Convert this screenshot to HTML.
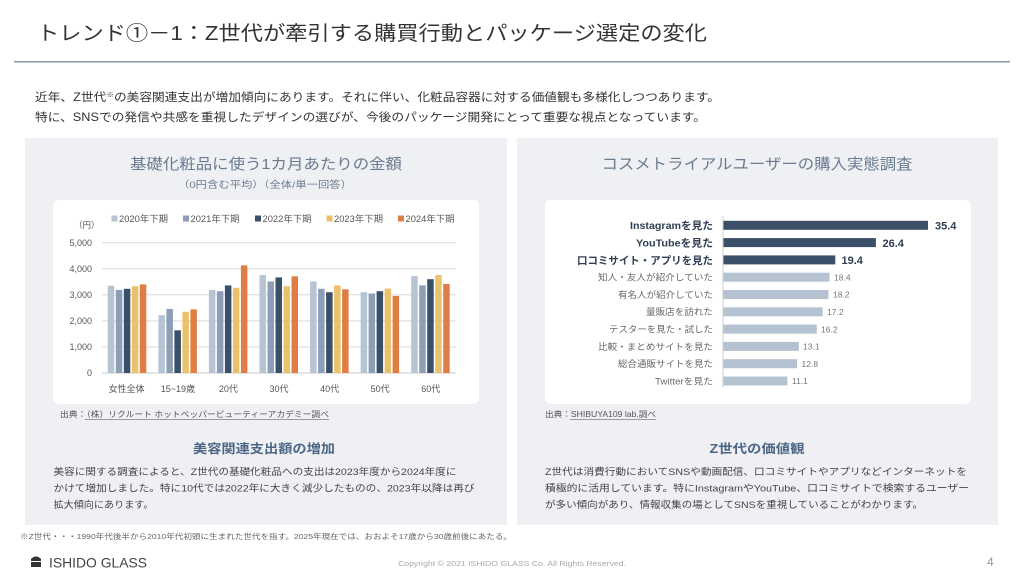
<!DOCTYPE html>
<html><head><meta charset="utf-8"><style>
html,body{margin:0;padding:0;background:#fff;}
svg{display:block;}
text{font-family:"Liberation Sans","Noto Sans CJK JP",sans-serif;}
</style></head><body>
<svg width="1024" height="576" viewBox="0 0 1024 576" xmlns="http://www.w3.org/2000/svg">
<rect width="1024" height="576" fill="#fff"/>
<!-- Header -->
<text x="37" y="40" font-size="20" fill="#333" textLength="670" lengthAdjust="spacingAndGlyphs">トレンド①－1：Z世代が牽引する購買行動とパッケージ選定の変化</text>
<rect x="14" y="61" width="996" height="1.5" fill="#8797ae"/>
<text x="35" y="101" font-size="11.5" fill="#333" textLength="685" lengthAdjust="spacingAndGlyphs">近年、Z世代<tspan font-size="7" dy="-4">※</tspan><tspan dy="4">の美容関連支出が増加傾向にあります。それに伴い、化粧品容器に対する価値観も多様化しつつあります。</tspan></text>
<text x="35" y="121" font-size="11.5" fill="#333" textLength="671" lengthAdjust="spacingAndGlyphs">特に、SNSでの発信や共感を重視したデザインの選びが、今後のパッケージ開発にとって重要な視点となっています。</text>

<!-- Panels -->
<rect x="25" y="138" width="482" height="387" fill="#eef0f4"/>
<rect x="517" y="138" width="481" height="387" fill="#eef0f4"/>
<rect x="53" y="200" width="426" height="204" rx="6" fill="#fff"/>
<rect x="545" y="200" width="426" height="204" rx="6" fill="#fff"/>

<!-- Left chart titles -->
<text x="266" y="169" font-size="15" fill="#6b7b8f" text-anchor="middle" textLength="272" lengthAdjust="spacingAndGlyphs">基礎化粧品に使う1カ月あたりの金額</text>
<text x="265" y="188" font-size="9.5" fill="#6b7b8f" text-anchor="middle" textLength="174" lengthAdjust="spacingAndGlyphs">（0円含む平均）（全体/単一回答）</text>

<!-- Legend -->
<g font-size="9" fill="#555">
<rect x="111.5" y="215.5" width="6" height="6" fill="#b7c4d3"/><text x="119" y="222" textLength="49" lengthAdjust="spacingAndGlyphs">2020年下期</text>
<rect x="183" y="215.5" width="6" height="6" fill="#8d9fb6"/><text x="190.5" y="222" textLength="49" lengthAdjust="spacingAndGlyphs">2021年下期</text>
<rect x="255" y="215.5" width="6" height="6" fill="#3b4f68"/><text x="262.5" y="222" textLength="49" lengthAdjust="spacingAndGlyphs">2022年下期</text>
<rect x="326.5" y="215.5" width="6" height="6" fill="#ebc26c"/><text x="334" y="222" textLength="49" lengthAdjust="spacingAndGlyphs">2023年下期</text>
<rect x="398" y="215.5" width="6" height="6" fill="#df7d44"/><text x="405.5" y="222" textLength="49" lengthAdjust="spacingAndGlyphs">2024年下期</text>
</g>
<text x="74" y="228" font-size="8.5" fill="#555">（円）</text>

<!-- gridlines -->
<g fill="#d9d9d9">
<rect x="102" y="242.2" width="354" height="1"/>
<rect x="102" y="268.2" width="354" height="1"/>
<rect x="102" y="294.3" width="354" height="1"/>
<rect x="102" y="320.4" width="354" height="1"/>
<rect x="102" y="346.4" width="354" height="1"/>
<rect x="102" y="372.5" width="354" height="1" fill="#c8c8c8"/>
</g>
<g font-size="9" fill="#555" text-anchor="end">
<text x="92" y="246">5,000</text>
<text x="92" y="272">4,000</text>
<text x="92" y="298">3,000</text>
<text x="92" y="324">2,000</text>
<text x="92" y="350">1,000</text>
<text x="92" y="376">0</text>
</g>

<!-- bars -->
<g>
<rect x="107.8" y="285.7" width="6.5" height="87.3" fill="#b7c4d3"/>
<rect x="115.8" y="289.9" width="6.5" height="83.1" fill="#8d9fb6"/>
<rect x="123.8" y="288.8" width="6.5" height="84.2" fill="#3b4f68"/>
<rect x="131.8" y="286.2" width="6.5" height="86.8" fill="#ebc26c"/>
<rect x="139.8" y="284.4" width="6.5" height="88.6" fill="#df7d44"/>
<rect x="158.4" y="315.1" width="6.5" height="57.9" fill="#b7c4d3"/>
<rect x="166.4" y="308.9" width="6.5" height="64.1" fill="#8d9fb6"/>
<rect x="174.4" y="330.3" width="6.5" height="42.7" fill="#3b4f68"/>
<rect x="182.4" y="311.8" width="6.5" height="61.2" fill="#ebc26c"/>
<rect x="190.4" y="309.4" width="6.5" height="63.6" fill="#df7d44"/>
<rect x="208.9" y="289.9" width="6.5" height="83.1" fill="#b7c4d3"/>
<rect x="216.9" y="291.2" width="6.5" height="81.8" fill="#8d9fb6"/>
<rect x="224.9" y="285.4" width="6.5" height="87.6" fill="#3b4f68"/>
<rect x="232.9" y="287.8" width="6.5" height="85.2" fill="#ebc26c"/>
<rect x="240.9" y="265.4" width="6.5" height="107.6" fill="#df7d44"/>
<rect x="259.5" y="275" width="6.5" height="98" fill="#b7c4d3"/>
<rect x="267.5" y="281.5" width="6.5" height="91.5" fill="#8d9fb6"/>
<rect x="275.5" y="277.4" width="6.5" height="95.6" fill="#3b4f68"/>
<rect x="283.5" y="286.2" width="6.5" height="86.8" fill="#ebc26c"/>
<rect x="291.5" y="276.3" width="6.5" height="96.7" fill="#df7d44"/>
<rect x="310.1" y="281.5" width="6.5" height="91.5" fill="#b7c4d3"/>
<rect x="318.1" y="288.8" width="6.5" height="84.2" fill="#8d9fb6"/>
<rect x="326.1" y="292.2" width="6.5" height="80.8" fill="#3b4f68"/>
<rect x="334.1" y="285.4" width="6.5" height="87.6" fill="#ebc26c"/>
<rect x="342.1" y="289.3" width="6.5" height="83.7" fill="#df7d44"/>
<rect x="360.6" y="292.2" width="6.5" height="80.8" fill="#b7c4d3"/>
<rect x="368.6" y="293.5" width="6.5" height="79.5" fill="#8d9fb6"/>
<rect x="376.6" y="291.2" width="6.5" height="81.8" fill="#3b4f68"/>
<rect x="384.6" y="288.6" width="6.5" height="84.4" fill="#ebc26c"/>
<rect x="392.6" y="295.9" width="6.5" height="77.1" fill="#df7d44"/>
<rect x="411.2" y="276.1" width="6.5" height="96.9" fill="#b7c4d3"/>
<rect x="419.2" y="285.4" width="6.5" height="87.6" fill="#8d9fb6"/>
<rect x="427.2" y="279.2" width="6.5" height="93.8" fill="#3b4f68"/>
<rect x="435.2" y="275" width="6.5" height="98" fill="#ebc26c"/>
<rect x="443.2" y="283.9" width="6.5" height="89.1" fill="#df7d44"/>
</g>
<g font-size="9" fill="#555" text-anchor="middle">
<text x="126.5" y="392" textLength="36" lengthAdjust="spacingAndGlyphs">女性全体</text>
<text x="177.9" y="392">15~19歳</text>
<text x="228.4" y="392">20代</text>
<text x="279" y="392">30代</text>
<text x="329.6" y="392">40代</text>
<text x="380.1" y="392">50代</text>
<text x="430.7" y="392">60代</text>
</g>
<text x="60" y="417" font-size="8" fill="#555" textLength="269" lengthAdjust="spacingAndGlyphs">出典：（株）リクルート ホットペッパービューティーアカデミー調べ</text>
<rect x="85" y="419" width="244" height="0.7" fill="#777"/>

<!-- Right chart -->
<text x="757" y="169" font-size="15" fill="#6b7b8f" text-anchor="middle" textLength="311" lengthAdjust="spacingAndGlyphs">コスメトライアルユーザーの購入実態調査</text>
<rect x="722.5" y="216" width="1" height="172" fill="#cfcfcf"/>
<g fill="#3b4f68">
<rect x="723.5" y="220.8" width="204.5" height="9"/>
<rect x="723.5" y="238.1" width="152.4" height="9"/>
<rect x="723.5" y="255.4" width="111.8" height="9"/>
</g>
<g fill="#b5c2d2">
<rect x="723.5" y="272.7" width="106" height="9"/>
<rect x="723.5" y="290" width="104.9" height="9"/>
<rect x="723.5" y="307.3" width="99.1" height="9"/>
<rect x="723.5" y="324.6" width="93.3" height="9"/>
<rect x="723.5" y="341.9" width="75.3" height="9"/>
<rect x="723.5" y="359.2" width="73.6" height="9"/>
<rect x="723.5" y="376.5" width="63.8" height="9"/>
</g>
<g font-size="10.5" font-weight="bold" fill="#2f3e52" text-anchor="end">
<text x="713" y="229" textLength="83" lengthAdjust="spacingAndGlyphs">Instagramを見た</text>
<text x="713" y="246.5" textLength="77" lengthAdjust="spacingAndGlyphs">YouTubeを見た</text>
<text x="713" y="263.8" textLength="136" lengthAdjust="spacingAndGlyphs">口コミサイト・アプリを見た</text>
</g>
<g font-size="9" fill="#666" text-anchor="end">
<text x="713" y="280.6" textLength="115" lengthAdjust="spacingAndGlyphs">知人・友人が紹介していた</text>
<text x="713" y="297.9" textLength="95" lengthAdjust="spacingAndGlyphs">有名人が紹介していた</text>
<text x="713" y="315.2" textLength="67" lengthAdjust="spacingAndGlyphs">量販店を訪れた</text>
<text x="713" y="332.5" textLength="104" lengthAdjust="spacingAndGlyphs">テスターを見た・試した</text>
<text x="713" y="349.8" textLength="115" lengthAdjust="spacingAndGlyphs">比較・まとめサイトを見た</text>
<text x="713" y="367.1" textLength="95" lengthAdjust="spacingAndGlyphs">総合通販サイトを見た</text>
<text x="713" y="384.4" textLength="58" lengthAdjust="spacingAndGlyphs">Twitterを見た</text>
</g>
<g font-size="11" font-weight="bold" fill="#2f3e52">
<text x="935" y="229.5">35.4</text>
<text x="882.5" y="246.8">26.4</text>
<text x="841.5" y="264.1">19.4</text>
</g>
<g font-size="8.5" fill="#777">
<text x="834" y="280.4">18.4</text>
<text x="833" y="297.7">18.2</text>
<text x="827" y="315">17.2</text>
<text x="821" y="332.3">16.2</text>
<text x="803" y="349.6">13.1</text>
<text x="801.5" y="366.9">12.8</text>
<text x="792" y="384.2">11.1</text>
</g>
<text x="545" y="417" font-size="8" fill="#555" textLength="111" lengthAdjust="spacingAndGlyphs">出典：SHIBUYA109 lab.調べ</text>
<rect x="570" y="419" width="86" height="0.7" fill="#777"/>

<!-- bottom texts left -->
<text x="264" y="453" font-size="12.5" font-weight="bold" fill="#4e6686" text-anchor="middle" textLength="142" lengthAdjust="spacingAndGlyphs">美容関連支出額の増加</text>
<g font-size="9.5" fill="#444">
<text x="53.5" y="475" textLength="403" lengthAdjust="spacingAndGlyphs">美容に関する調査によると、Z世代の基礎化粧品への支出は2023年度から2024年度に</text>
<text x="53.5" y="491.5" textLength="421" lengthAdjust="spacingAndGlyphs">かけて増加しました。特に10代では2022年に大きく減少したものの、2023年以降は再び</text>
<text x="53.5" y="508" textLength="100" lengthAdjust="spacingAndGlyphs">拡大傾向にあります。</text>
</g>
<!-- bottom texts right -->
<text x="757" y="453" font-size="12.5" font-weight="bold" fill="#4e6686" text-anchor="middle" textLength="95" lengthAdjust="spacingAndGlyphs">Z世代の価値観</text>
<g font-size="9.5" fill="#444">
<text x="545" y="475" textLength="422" lengthAdjust="spacingAndGlyphs">Z世代は消費行動においてSNSや動画配信、口コミサイトやアプリなどインターネットを</text>
<text x="545" y="491.5" textLength="424" lengthAdjust="spacingAndGlyphs">積極的に活用しています。特にInstagramやYouTube、口コミサイトで検索するユーザー</text>
<text x="545" y="508" textLength="378" lengthAdjust="spacingAndGlyphs">が多い傾向があり、情報収集の場としてSNSを重視していることがわかります。</text>
</g>

<!-- footnote -->
<text x="20" y="539" font-size="7.5" fill="#666" textLength="492" lengthAdjust="spacingAndGlyphs">※Z世代・・・1990年代後半から2010年代初頭に生まれた世代を指す。2025年現在では、おおよそ17歳から30歳前後にあたる。</text>

<!-- footer -->
<g fill="#333">
<path d="M31 559 Q36 554 41 559 L41 561 L31 561 Z"/>
<rect x="31" y="562" width="10" height="5"/>
</g>
<text x="49" y="567.5" font-size="14" fill="#444" textLength="98" lengthAdjust="spacingAndGlyphs">ISHIDO GLASS</text>
<text x="512" y="566" font-size="7.5" fill="#aaa" text-anchor="middle" textLength="228" lengthAdjust="spacingAndGlyphs">Copyright © 2021 ISHIDO GLASS Co. All Rights Reserved.</text>
<text x="987" y="566" font-size="12" fill="#999">4</text>
</svg>
</body></html>
